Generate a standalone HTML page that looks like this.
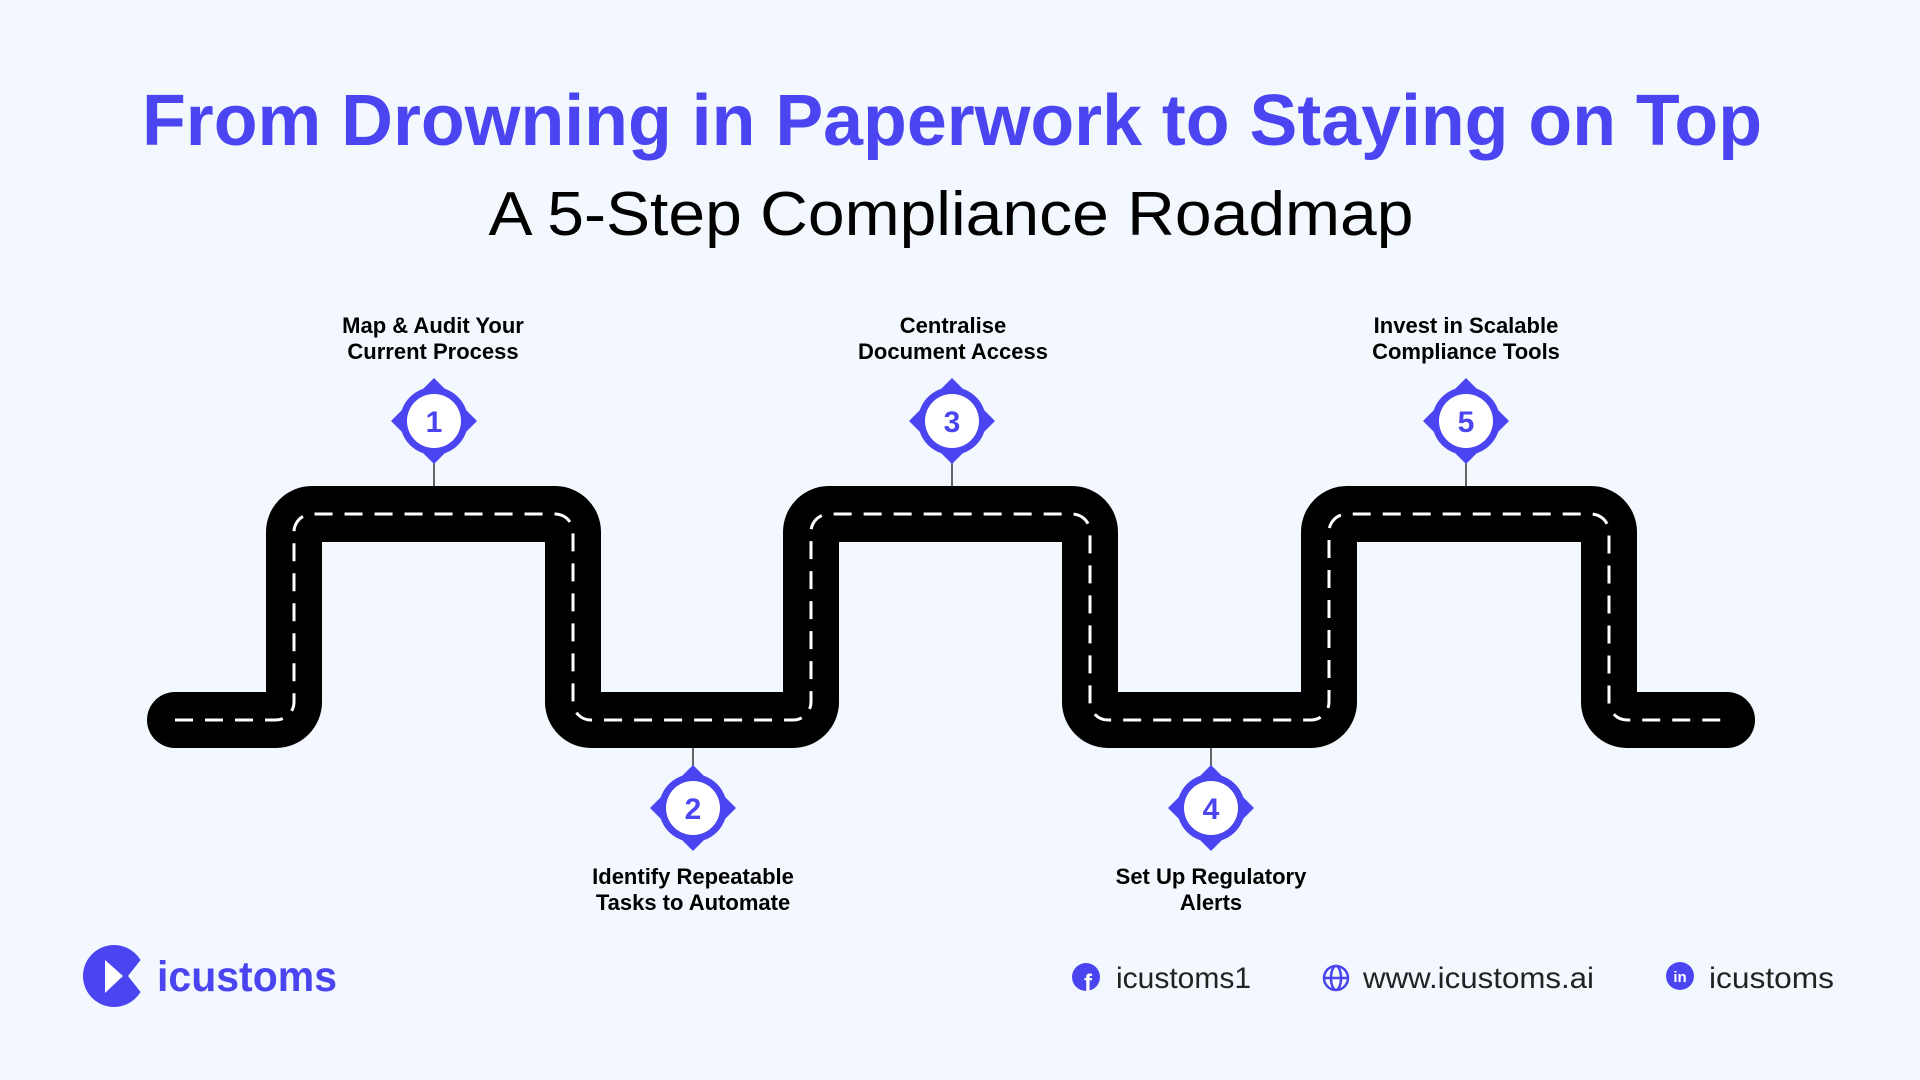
<!DOCTYPE html>
<html><head><meta charset="utf-8"><style>
html,body{margin:0;padding:0;background:#F3F8FE;}
svg{display:block}
</style></head><body>
<svg width="1920" height="1080" viewBox="0 0 1920 1080" xmlns="http://www.w3.org/2000/svg">
<rect width="1920" height="1080" fill="#F3F8FE"/>
<text x="952" y="145" text-anchor="middle" font-family="Liberation Sans, sans-serif" font-weight="bold" font-size="72" fill="#4A45F0" textLength="1620" lengthAdjust="spacingAndGlyphs">From Drowning in Paperwork to Staying on Top</text>
<text x="951" y="235" text-anchor="middle" font-family="Liberation Sans, sans-serif" font-size="62" fill="#000" textLength="925" lengthAdjust="spacingAndGlyphs">A 5-Step Compliance Roadmap</text>

<path d="M175,720 H276 A18,18 0 0 0 294,702 V532 A18,18 0 0 1 312,514 H555 A18,18 0 0 1 573,532 V702 A18,18 0 0 0 591,720 H793 A18,18 0 0 0 811,702 V532 A18,18 0 0 1 829,514 H1072 A18,18 0 0 1 1090,532 V702 A18,18 0 0 0 1108,720 H1311 A18,18 0 0 0 1329,702 V532 A18,18 0 0 1 1347,514 H1591 A18,18 0 0 1 1609,532 V702 A18,18 0 0 0 1627,720 H1727" fill="none" stroke="#000" stroke-width="56" stroke-linecap="round" stroke-linejoin="round"/>
<path d="M175,720 H276 A18,18 0 0 0 294,702 V532 A18,18 0 0 1 312,514 H555 A18,18 0 0 1 573,532 V702 A18,18 0 0 0 591,720 H793 A18,18 0 0 0 811,702 V532 A18,18 0 0 1 829,514 H1072 A18,18 0 0 1 1090,532 V702 A18,18 0 0 0 1108,720 H1311 A18,18 0 0 0 1329,702 V532 A18,18 0 0 1 1347,514 H1591 A18,18 0 0 1 1609,532 V702 A18,18 0 0 0 1627,720 H1727" fill="none" stroke="#fff" stroke-width="3" stroke-dasharray="18 12"/>

<g stroke="#333" stroke-width="1.5">
<line x1="434" y1="460" x2="434" y2="486"/>
<line x1="952" y1="460" x2="952" y2="486"/>
<line x1="1466" y1="460" x2="1466" y2="486"/>
<line x1="693" y1="748" x2="693" y2="768"/>
<line x1="1211" y1="748" x2="1211" y2="768"/>
</g>

<g font-family="Liberation Sans, sans-serif" font-weight="bold" text-anchor="middle">
<g transform="translate(434,421)"><rect x="-30.4" y="-30.4" width="60.8" height="60.8" transform="rotate(45)" fill="#4A45F0"/><circle r="34" fill="#4A45F0"/><circle r="27" fill="#fff"/><text y="11" font-size="30" fill="#4A45F0">1</text></g>
<g transform="translate(693,808)"><rect x="-30.4" y="-30.4" width="60.8" height="60.8" transform="rotate(45)" fill="#4A45F0"/><circle r="34" fill="#4A45F0"/><circle r="27" fill="#fff"/><text y="11" font-size="30" fill="#4A45F0">2</text></g>
<g transform="translate(952,421)"><rect x="-30.4" y="-30.4" width="60.8" height="60.8" transform="rotate(45)" fill="#4A45F0"/><circle r="34" fill="#4A45F0"/><circle r="27" fill="#fff"/><text y="11" font-size="30" fill="#4A45F0">3</text></g>
<g transform="translate(1211,808)"><rect x="-30.4" y="-30.4" width="60.8" height="60.8" transform="rotate(45)" fill="#4A45F0"/><circle r="34" fill="#4A45F0"/><circle r="27" fill="#fff"/><text y="11" font-size="30" fill="#4A45F0">4</text></g>
<g transform="translate(1466,421)"><rect x="-30.4" y="-30.4" width="60.8" height="60.8" transform="rotate(45)" fill="#4A45F0"/><circle r="34" fill="#4A45F0"/><circle r="27" fill="#fff"/><text y="11" font-size="30" fill="#4A45F0">5</text></g>

<g font-size="22" fill="#000">
<text x="433" y="333">Map &amp; Audit Your</text><text x="433" y="359">Current Process</text>
<text x="953" y="333">Centralise</text><text x="953" y="359">Document Access</text>
<text x="1466" y="333">Invest in Scalable</text><text x="1466" y="359">Compliance Tools</text>
<text x="693" y="884">Identify Repeatable</text><text x="693" y="910">Tasks to Automate</text>
<text x="1211" y="884">Set Up Regulatory</text><text x="1211" y="910">Alerts</text>
</g>
</g>

<circle cx="114" cy="976" r="31" fill="#4A45F0"/>
<polygon points="150,948 128,976 150,1004" fill="#F3F8FE"/>
<polygon points="105,960 105,993 123,976" fill="#fff"/>
<text x="157" y="991" font-family="Liberation Sans, sans-serif" font-weight="bold" font-size="43" fill="#4A45F0" textLength="180" lengthAdjust="spacingAndGlyphs">icustoms</text>

<circle cx="1086" cy="977" r="14" fill="#4A45F0"/>
<text x="1088" y="991" text-anchor="middle" font-family="Liberation Sans, sans-serif" font-weight="bold" font-size="24" fill="#fff">f</text>
<text x="1116" y="988" font-family="Liberation Sans, sans-serif" font-size="30" fill="#222" textLength="135" lengthAdjust="spacingAndGlyphs">icustoms1</text>

<g fill="none" stroke="#4A45F0" stroke-width="2.5">
<circle cx="1336" cy="978" r="12"/>
<ellipse cx="1336" cy="978" rx="5" ry="12"/>
<line x1="1324" y1="978" x2="1348" y2="978"/>
</g>
<text x="1363" y="988" font-family="Liberation Sans, sans-serif" font-size="30" fill="#222" textLength="231" lengthAdjust="spacingAndGlyphs">www.icustoms.ai</text>

<circle cx="1680" cy="976" r="14" fill="#4A45F0"/>
<text x="1680" y="982" text-anchor="middle" font-family="Liberation Sans, sans-serif" font-weight="bold" font-size="15" fill="#fff">in</text>
<text x="1709" y="988" font-family="Liberation Sans, sans-serif" font-size="30" fill="#222" textLength="125" lengthAdjust="spacingAndGlyphs">icustoms</text>
</svg>
</body></html>
